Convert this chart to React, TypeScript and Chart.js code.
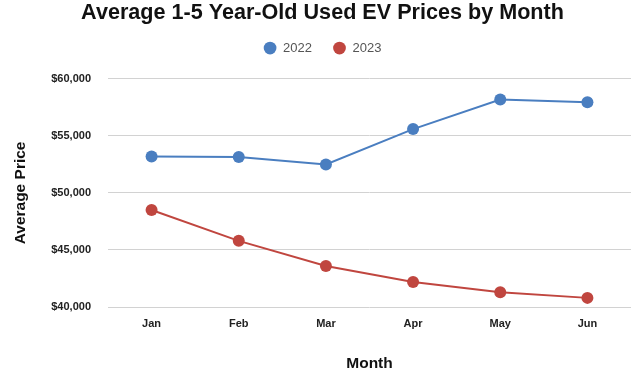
import { useEffect, useRef } from "react";
import { Chart, registerables, layouts } from "chart.js";

Chart.register(...registerables);

const months = ["Jan", "Feb", "Mar", "Apr", "May", "Jun"];
const prices2022 = [53200, 53150, 52500, 55600, 58200, 57950];
const prices2023 = [48500, 45800, 43600, 42200, 41300, 40800];
const seriesNames = ["2022", "2023"];
const seriesColors = ["#4a7ec0", "#c0463f"];
const yMin = 40000;
const yMax = 60000;
const yStep = 5000;

const FAMILY = "'Liberation Sans', Arial, sans-serif";

// Empty layout box that leaves some breathing room between the legend and the plot.
const legendGap = {
  id: "legendGap",
  beforeInit(chart: any) {
    const box: any = {
      position: "top",
      weight: 500,
      fullSize: true,
      options: {},
      top: 0,
      left: 0,
      right: 0,
      bottom: 0,
      width: 0,
      height: 0,
      isHorizontal: () => true,
      update(maxWidth: number) {
        this.width = maxWidth;
        this.height = 14.3;
      },
      draw() {},
    };
    layouts.addBox(chart, box);
  },
};

export default function App() {
  const canvasRef = useRef<HTMLCanvasElement>(null);

  useEffect(() => {
    if (!canvasRef.current) return;
    const datasets = [prices2022, prices2023].map((values, i) => ({
      label: seriesNames[i],
      data: values,
      borderColor: seriesColors[i],
      backgroundColor: seriesColors[i],
      pointBackgroundColor: seriesColors[i],
      pointBorderColor: seriesColors[i],
      borderWidth: 2,
      pointRadius: 6,
      pointHoverRadius: 6,
      pointBorderWidth: 0,
      tension: 0,
    }));

    const chart = new Chart(canvasRef.current, {
      type: "line",
      data: { labels: months, datasets },
      plugins: [legendGap],
      options: {
        animation: false,
        responsive: false,
        layout: { autoPadding: false, padding: { left: 14, right: 0, top: 0, bottom: 0 } },
        plugins: {
          title: {
            display: true,
            text: "Average 1-5 Year-Old Used EV Prices by Month",
            color: "#111",
            font: { family: FAMILY, size: 21.6, weight: "bold", lineHeight: 1 },
            padding: { top: 2, bottom: -3 },
          },
          legend: {
            labels: {
              usePointStyle: true,
              pointStyle: "circle",
              boxWidth: 13,
              boxHeight: 9,
              padding: 21,
              color: "#555",
              font: { family: FAMILY, size: 13 },
            },
          },
          tooltip: { enabled: false },
        },
        scales: {
          x: {
            offset: true,
            grid: { display: false, drawTicks: false },
            border: { display: false },
            ticks: {
              color: "#222",
              padding: 10,
              font: { family: FAMILY, size: 11, weight: "bold" },
            },
            title: {
              display: true,
              text: "Month",
              color: "#111",
              font: { family: FAMILY, size: 15.5, weight: "bold" },
              padding: { top: 0, bottom: -1 },
            },
            afterFit: (scale: any) => {
              scale.height = 65;
              scale.paddingLeft = 0;
              scale.paddingRight = 0;
            },
          },
          y: {
            min: yMin,
            max: yMax,
            grid: { color: "#d2d2d2", drawTicks: false },
            border: { display: false },
            ticks: {
              stepSize: yStep,
              color: "#222",
              padding: 17,
              font: { family: FAMILY, size: 11, weight: "bold" },
              callback: (v: any) => "$" + Number(v).toLocaleString("en-US"),
            },
            title: {
              display: true,
              text: "Average Price",
              color: "#111",
              font: { family: FAMILY, size: 15.5, weight: "bold" },
              padding: { top: -3, bottom: 0 },
            },
            afterFit: (scale: any) => {
              scale.width = 94;
            },
          },
        },
      },
    });
    return () => chart.destroy();
  }, []);

  return (
    <div
      style={{
        position: "fixed",
        left: 0,
        top: 0,
        width: 631,
        height: 372,
        background: "#fff",
      }}
    >
      <canvas ref={canvasRef} width={631} height={372} />
    </div>
  );
}
